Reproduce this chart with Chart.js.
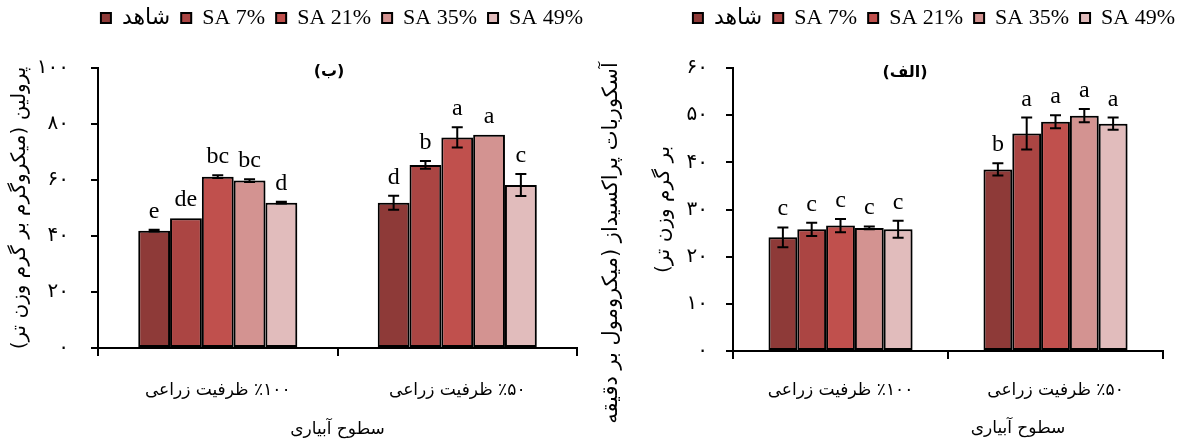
<!DOCTYPE html>
<html>
<head>
<meta charset="utf-8">
<script src="https://cdn.jsdelivr.net/npm/chart.js@4.4.1/dist/chart.umd.min.js"></script>
<style>
  body { margin: 0; width: 1178px; height: 443px; background: #fff; position: relative; overflow: hidden; }
  canvas { position: absolute; top: 0; direction: rtl; }
  #left { left: 0; }
  #right { left: 589px; }
</style>
</head>
<body>
<canvas id="left" width="589" height="443"></canvas>
<canvas id="right" width="589" height="443"></canvas>
<script>
// treatments (legend) and irrigation levels (x categories)
const treatments = ['شاهد', 'SA 7%', 'SA 21%', 'SA 35%', 'SA 49%'];
const irrigation = ['۱۰۰\u200F٪ ظرفیت زراعی', '۵۰\u200F٪ ظرفیت زراعی'];
const barColors = ['#8e3a38', '#ab4543', '#c0504d', '#d39391', '#e1bcbc'];

// (ب) proline - one row per treatment, [100% FC, 50% FC]
const prolineTicks = [0, 20, 40, 60, 80, 100];
const prolineValues = [[41.9, 51.9], [46.3, 65.4], [61.2, 75.2], [59.8, 76.2], [51.9, 58.2]];
const prolineErrors = [[0.3, 2.5], [0, 1.4], [0.5, 3.6], [0.5, 0], [0.3, 3.9]];
const prolineLetters = [['e', 'd'], ['de', 'b'], ['bc', 'a'], ['bc', 'a'], ['d', 'c']];

// (الف) ascorbate peroxidase
const apxTicks = [0, 10, 20, 30, 40, 50, 60];
const apxValues = [[24.1, 38.5], [25.8, 46.1], [26.6, 48.6], [26.1, 49.9], [25.8, 48.2]];
const apxErrors = [[2.1, 1.3], [1.4, 3.4], [1.4, 1.4], [0.3, 1.4], [1.8, 1.3]];
const apxLetters = [['c', 'b'], ['c', 'a'], ['c', 'a'], ['c', 'a'], ['c', 'a']];

const faFont = "'DejaVu Sans', sans-serif";
const latinFont = "'Liberation Serif', 'DejaVu Sans', serif";
const fa = n => String(n).replace(/\d/g, d => '۰۱۲۳۴۵۶۷۸۹'[d]);

// fixed legend height + position
const legendFix = {
    id: 'legendFix',
    beforeLayout(chart, args, opts) {
        const lg = chart.legend;
        if (lg && !lg._fixed) {
            const fit = lg.fit;
            lg.fit = function () { fit.call(this); this.height = opts.height; };
            lg._fixed = true;
        }
    },
    afterLayout(chart, args, opts) {
        chart.legend.right = opts.right;
        chart.legend.top = opts.top;
    }
};

// soft shadow on the bars
const barShadow = {
    id: 'barShadow',
    beforeDatasetsDraw(chart) {
        const ctx = chart.ctx;
        ctx.save();
        ctx.shadowColor = 'rgba(0,0,0,0.3)';
        ctx.shadowBlur = 5;
        ctx.shadowOffsetX = 3;
        ctx.shadowOffsetY = 1;
    },
    afterDatasetsDraw(chart) {
        chart.ctx.restore();
    }
};

// error bars and significance letters
const errorBars = {
    id: 'errorBars',
    afterDatasetsDraw(chart, args, opts) {
        const ctx = chart.ctx;
        const y = chart.scales.y;
        ctx.save();
        ctx.strokeStyle = '#000';
        ctx.lineWidth = 2;
        ctx.fillStyle = '#000';
        ctx.font = opts.font;
        ctx.textAlign = 'center';
        ctx.textBaseline = 'alphabetic';
        chart.data.datasets.forEach((ds, i) => {
            chart.getDatasetMeta(i).data.forEach((bar, j) => {
                const v = ds.data[j];
                const e = ds.errors[j];
                const top = y.getPixelForValue(v + e);
                const bot = y.getPixelForValue(v - e);
                if (e > 0) {
                    const w = opts.cap / 2;
                    ctx.beginPath();
                    ctx.moveTo(bar.x, top); ctx.lineTo(bar.x, bot);
                    ctx.moveTo(bar.x - w, top); ctx.lineTo(bar.x + w, top);
                    ctx.moveTo(bar.x - w, bot); ctx.lineTo(bar.x + w, bot);
                    ctx.stroke();
                }
                ctx.fillText(ds.letters[j], bar.x, Math.min(top, bar.y) - opts.gap);
            });
        });
        ctx.restore();
    }
};

// free text (panel letters, extra title lines)
const extraText = {
    id: 'extraText',
    afterDraw(chart, args, opts) {
        const ctx = chart.ctx;
        (opts.items || []).forEach(t => {
            ctx.save();
            ctx.translate(t.x, t.y);
            if (t.rotate) ctx.rotate(t.rotate);
            ctx.font = t.font;
            ctx.fillStyle = '#000';
            ctx.textAlign = 'center';
            ctx.textBaseline = 'middle';
            ctx.fillText(t.text, 0, 0);
            ctx.restore();
        });
    }
};

function makeChart(id, cfg) {
    return new Chart(document.getElementById(id), {
        type: 'bar',
        data: {
            labels: irrigation,
            datasets: treatments.map((name, i) => ({
                label: name,
                data: cfg.values[i],
                errors: cfg.errors[i],
                letters: cfg.letters[i],
                backgroundColor: barColors[i],
                borderColor: '#000',
                borderWidth: 2,
                borderSkipped: false,
                categoryPercentage: cfg.catPct,
                barPercentage: 1
            }))
        },
        options: {
            responsive: false,
            animation: false,
            devicePixelRatio: 1,
            layout: { padding: { left: 0, right: cfg.padRight, top: 0, bottom: 0 } },
            plugins: {
                legend: {
                    align: 'end',
                    labels: {
                        boxWidth: 10, boxHeight: 10, padding: 11, color: '#000',
                        font: { family: latinFont, size: 22 }
                    }
                },
                tooltip: { enabled: false },
                legendFix: { height: 68, top: -4, right: cfg.legendRight },
                errorBars: { font: '24px ' + latinFont, cap: 11, gap: 12 },
                extraText: { items: cfg.texts }
            },
            scales: {
                x: {
                    afterFit: s => { s.height = cfg.xHeight; },
                    ticks: { color: '#000', font: { family: faFont, size: 17 }, padding: cfg.xPad },
                    grid: { drawOnChartArea: false, color: '#000', lineWidth: 2, tickLength: 8 },
                    border: { color: '#000', width: 2 },
                    title: {
                        display: cfg.xTitle !== '', text: cfg.xTitle, color: '#000',
                        font: { family: faFont, size: 17 }, padding: { top: 0, bottom: 3 }
                    }
                },
                y: {
                    min: cfg.ticks[0],
                    max: cfg.ticks[cfg.ticks.length - 1],
                    afterBuildTicks: s => { s.ticks = cfg.ticks.map(v => ({ value: v })); },
                    afterFit: s => { s.width = cfg.yWidth; },
                    ticks: { color: '#000', font: { family: faFont, size: 20 }, padding: cfg.yPad, callback: v => fa(v) },
                    grid: { drawOnChartArea: false, color: '#000', lineWidth: 2, tickLength: 7 },
                    border: { color: '#000', width: 2 },
                    title: {
                        display: true, text: cfg.yTitle, color: '#000',
                        font: { family: faFont, size: 20 }, padding: { top: cfg.yTitlePad, bottom: 0 }
                    }
                }
            }
        },
        plugins: [legendFix, barShadow, errorBars, extraText]
    });
}

makeChart('left', {
    values: prolineValues, errors: prolineErrors, letters: prolineLetters, ticks: prolineTicks,
    catPct: 0.664, padRight: 12, legendRight: 594,
    xHeight: 95, xPad: 24, yWidth: 98, yPad: 22, yTitlePad: 8,
    xTitle: 'سطوح آبیاری',
    yTitle: 'پرولین (میکروگرم بر گرم وزن تر)',
    texts: [{ text: '(ب)', x: 329, y: 72, font: 'bold 16px ' + faFont }]
});

makeChart('right', {
    values: apxValues, errors: apxErrors, letters: apxLetters, ticks: apxTicks,
    catPct: 0.67, padRight: 15, legendRight: 597,
    xHeight: 92, xPad: 21, yWidth: 144, yPad: 18, yTitlePad: 63,
    xTitle: '',
    yTitle: 'بر گرم وزن تر)',
    texts: [
        { text: '(الف)', x: 316, y: 73, font: 'bold 16px ' + faFont },
        { text: 'آسکوربات پراکسیداز (میکرومول بر دقیقه', x: 23, y: 243, rotate: -Math.PI / 2, font: '21px ' + faFont },
        { text: 'سطوح آبیاری', x: 429, y: 429, font: '17px ' + faFont }
    ]
});
</script>
</body>
</html>
